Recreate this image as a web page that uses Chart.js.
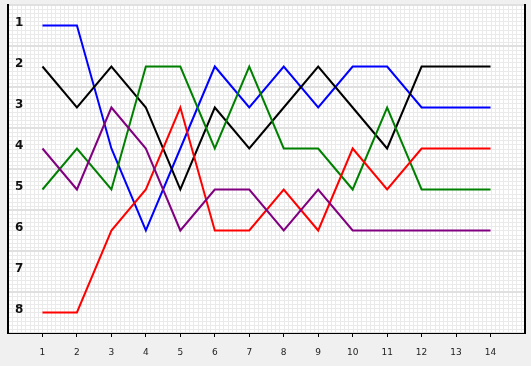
<!DOCTYPE html>
<html>
<head>
<meta charset="utf-8">
<script src="https://cdn.jsdelivr.net/npm/chart.js@4"></script>
<style>
  html, body { margin: 0; padding: 0; background: #f0f0f0; }
  #wrap { width: 531px; height: 366px; }
</style>
</head>
<body>
<div id="wrap"><canvas id="rankChart"></canvas></div>
<script>
// rounds 1..14, rank per round (1 = top)
const rounds = [1, 2, 3, 4, 5, 6, 7, 8, 9, 10, 11, 12, 13, 14];
const rankLabels = [1, 2, 3, 4, 5, 6, 7, 8];

const blueRanks   = [1, 1, 4, 6, 4, 2, 3, 2, 3, 2, 2, 3, 3, 3];
const blackRanks  = [2, 3, 2, 3, 5, 3, 4, 3, 2, 3, 4, 2, 2, 2];
const greenRanks  = [5, 4, 5, 2, 2, 4, 2, 4, 4, 5, 3, 5, 5, 5];
const redRanks    = [8, 8, 6, 5, 3, 6, 6, 5, 6, 4, 5, 4, 4, 4];
const purpleRanks = [4, 5, 3, 4, 6, 5, 5, 6, 5, 6, 6, 6, 6, 6];

function toPoints(ranks) {
    return ranks.map((r, i) => ({ x: rounds[i], y: r }));
}

function makeLine(ranks, color) {
    return {
        data: toPoints(ranks),
        borderColor: color,
        backgroundColor: color,
        borderWidth: 2,
        pointRadius: 0,
        tension: 0,
        fill: false
    };
}

// white plot area with a fine minor grid, built from the scales
const minorGrid = {
    id: 'minorGrid',
    beforeDraw(chart) {
        const { ctx, chartArea: a, scales: { x, y } } = chart;
        ctx.save();
        ctx.fillStyle = '#f0f0f0';
        ctx.fillRect(0, 0, chart.width, chart.height);
        ctx.fillStyle = '#ffffff';
        ctx.fillRect(a.left, a.top, a.right - a.left, a.bottom - a.top);
        ctx.strokeStyle = '#eaeaea';
        ctx.lineWidth = 1;
        ctx.beginPath();
        for (let v = x.min; v <= x.max + 1e-6; v += 1 / 8) {
            const px = Math.round(x.getPixelForValue(v)) + 0.5;
            ctx.moveTo(px, a.top);
            ctx.lineTo(px, a.bottom);
        }
        for (let v = y.min; v <= y.max + 1e-6; v += 0.1) {
            const py = Math.round(y.getPixelForValue(v)) + 0.5;
            ctx.moveTo(a.left, py);
            ctx.lineTo(a.right, py);
        }
        ctx.stroke();
        ctx.restore();
    }
};

new Chart(document.getElementById('rankChart'), {
    type: 'line',
    data: {
        datasets: [
            makeLine(purpleRanks, '#800080'),
            makeLine(redRanks, '#ff0000'),
            makeLine(greenRanks, '#008000'),
            makeLine(blackRanks, '#000000'),
            makeLine(blueRanks, '#0000ff')
        ]
    },
    options: {
        responsive: true,
        maintainAspectRatio: false,
        animation: false,
        layout: { padding: { left: 7, right: 6, top: 5, bottom: 0 } },
        plugins: {
            legend: { display: false },
            tooltip: { enabled: false }
        },
        scales: {
            x: {
                type: 'linear',
                min: 0,
                max: 15,
                afterBuildTicks: axis => { axis.ticks = rounds.map(v => ({ value: v })); },
                afterFit: axis => { axis.height = 33; },
                ticks: {
                    autoSkip: false,
                    maxRotation: 0,
                    color: '#222',
                    padding: 10,
                    font: { family: 'DejaVu Sans', size: 9 }
                },
                grid: {
                    drawOnChartArea: false,
                    drawTicks: true,
                    tickLength: 4,
                    tickColor: '#000',
                    tickWidth: 1
                },
                border: { display: true, color: '#000', width: 1 }
            },
            y: {
                type: 'linear',
                reverse: true,
                min: 0.5,
                max: 8.5,
                afterBuildTicks: axis => {
                    const t = [];
                    rankLabels.forEach(r => { t.push({ value: r - 0.5 }); t.push({ value: r }); });
                    t.push({ value: rankLabels[rankLabels.length - 1] + 0.5 });
                    axis.ticks = t;
                },
                afterFit: axis => {
                    axis.width = 1;
                    axis.paddingTop = 0;
                    axis.paddingBottom = 0;
                },
                ticks: {
                    autoSkip: false,
                    mirror: true,
                    padding: 7,
                    labelOffset: -3,
                    color: '#111',
                    font: { family: 'DejaVu Sans', size: 12, weight: 'bold' },
                    callback: v => Number.isInteger(v) ? String(v) : ''
                },
                grid: {
                    drawTicks: false,
                    lineWidth: 2,
                    color: c => Number.isInteger(c.tick.value) ? 'rgba(0,0,0,0)' : '#e0e0e0'
                },
                border: { display: true, color: '#000', width: 2 }
            },
            y2: {
                type: 'linear',
                position: 'right',
                min: 0.5,
                max: 8.5,
                ticks: { display: false },
                grid: { drawOnChartArea: false, drawTicks: false },
                border: { display: true, color: '#000', width: 2 }
            }
        }
    },
    plugins: [minorGrid]
});
</script>
</body>
</html>
